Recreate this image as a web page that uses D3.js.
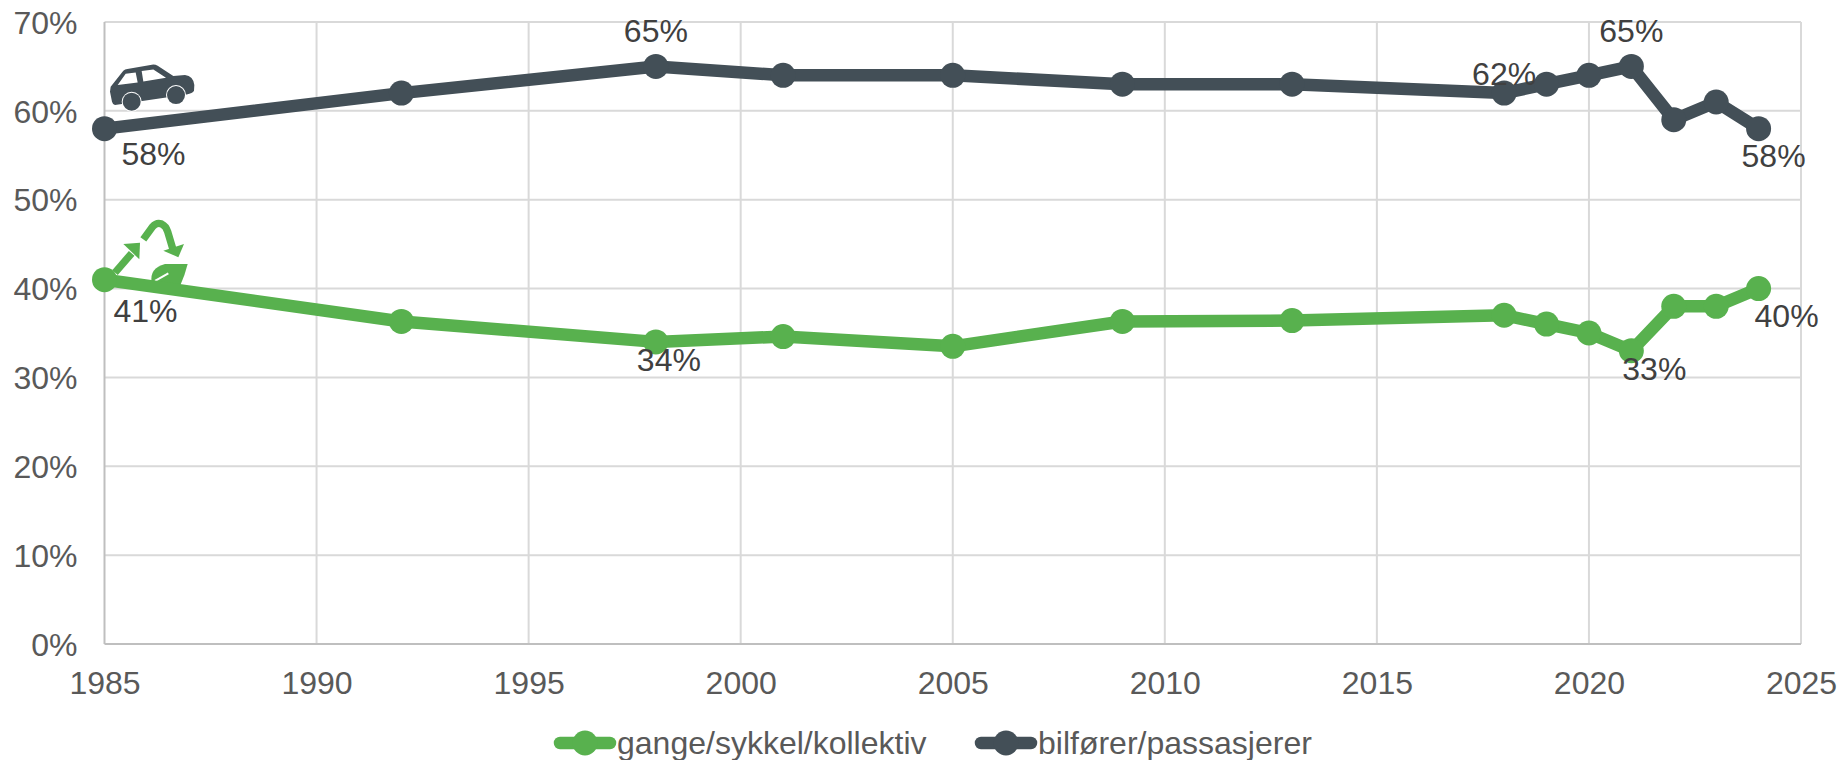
<!DOCTYPE html>
<html>
<head>
<meta charset="utf-8">
<script src="https://cdn.jsdelivr.net/npm/d3@7"></script>
<style>
  html, body { margin: 0; padding: 0; background: #fff; }
  svg { display: block; }
  text { font-family: "Liberation Sans", Arial, sans-serif; }
</style>
</head>
<body>
<svg id="chart" width="1841" height="760"></svg>
<script>
// Travel mode share by survey year
const years = [1985, 1992, 1998, 2001, 2005, 2009, 2013, 2018, 2019, 2020, 2021, 2022, 2023, 2024];
const activeShare = [41, 36.3, 34, 34.6, 33.5, 36.3, 36.4, 37, 36, 35, 33, 38, 38, 40];
const carShare = [58, 62, 65, 64, 64, 63, 63, 62, 63, 64, 65, 59, 61, 58];
const xTicks = [1985, 1990, 1995, 2000, 2005, 2010, 2015, 2020, 2025];
const yTicks = [0, 10, 20, 30, 40, 50, 60, 70];
const activeName = "gange/sykkel/kollektiv";
const carName = "bilfører/passasjerer";
// Labelled points: year, series value, text offset from the point
const activeLabels = [[1985, 41, "41%", 41, 42], [1998, 34, "34%", 13, 29], [2021, 33, "33%", 23, 29], [2024, 40, "40%", 28, 38]];
const carLabels = [[1985, 58, "58%", 49, 36], [1998, 65, "65%", 0, -24], [2018, 62, "62%", 0, -8], [2021, 65, "65%", 0, -24], [2024, 58, "58%", 15, 38]];

const green = "#58b14e", slate = "#434f57", grid = "#d9d9d9", axisText = "#595959", labelText = "#404040";
const axisFont = 32, labelFont = 32;

const svg = d3.select("#chart");
const x = d3.scaleLinear().domain([1985, 2025]).range([104.5, 1801]);
const y = d3.scaleLinear().domain([0, 70]).range([644, 22]);

// Gridlines
svg.append("g").selectAll("line").data(yTicks.slice(1)).join("line")
  .attr("x1", x(1985)).attr("x2", x(2025))
  .attr("y1", d => y(d)).attr("y2", d => y(d))
  .attr("stroke", grid).attr("stroke-width", 2);
svg.append("g").selectAll("line").data(xTicks).join("line")
  .attr("x1", d => x(d)).attr("x2", d => x(d))
  .attr("y1", y(0)).attr("y2", y(70))
  .attr("stroke", d => d === 1985 ? "#bfbfbf" : grid).attr("stroke-width", 2);
svg.append("line")
  .attr("x1", x(1985)).attr("x2", x(2025)).attr("y1", y(0)).attr("y2", y(0))
  .attr("stroke", "#bfbfbf").attr("stroke-width", 2);

// Axis labels
const yAxis = d3.axisLeft(y).tickValues(yTicks).tickFormat(d => d + "%").tickSize(0).tickPadding(27);
const xAxis = d3.axisBottom(x).tickValues(xTicks).tickFormat(d3.format("d")).tickSize(0).tickPadding(27);
for (const [axis, tx, ty] of [[yAxis, x(1985), 1], [xAxis, 0, y(0)]]) {
  const g = svg.append("g").attr("transform", `translate(${tx},${ty})`).call(axis);
  g.select(".domain").remove();
  g.selectAll("text").attr("fill", axisText).style("font-size", axisFont + "px")
    .style("font-family", '"Liberation Sans", Arial, sans-serif');
}

// Car pictogram, drawn in a 1/3 px grid above the 60% line
const car = svg.append("g").attr("transform", `translate(${x(1985) - 14.5},${y(60) - 70.8}) scale(${1 / 3})`);
car.append("path").attr("fill", slate).attr("fill-rule", "evenodd")
  .attr("d", "M62,140 L100,92 Q105,88 112,87 L190,73 Q197,73 203,77 L250,108 L285,105 Q310,108 313,135 L312,152 Q308,160 290,163 L75,195 Q68,193 66,185 L60,155 Z M83,135 L143,127 L137,97 L107,101 Z M160,124 L228,113 L190,88 L155,93 Z");
for (const [cx, cy] of [[125, 185], [258, 165]]) {
  car.append("circle").attr("cx", cx).attr("cy", cy).attr("r", 27).attr("fill", slate)
    .attr("stroke", "#fff").attr("stroke-width", 6).attr("paint-order", "stroke");
}

// Recycling pictogram with leaf, drawn in the same grid above the 40% line
const eco = svg.append("g").attr("transform", `translate(${x(1985) - 14.5},${y(40) - 88.6}) scale(${1 / 3})`);
eco.append("path").attr("fill", "none").attr("stroke", green).attr("stroke-width", 22)
  .attr("d", "M75,218 L125,160");
eco.append("path").attr("fill", green).attr("d", "M100,132 L150,128 L148,178 Z");
eco.append("path").attr("fill", "none").attr("stroke", green).attr("stroke-width", 22)
  .attr("d", "M160,118 L188,80 Q200,66 215,72 Q228,78 233,95 L250,152");
eco.append("path").attr("fill", green).attr("d", "M220,152 L282,132 L265,172 Z");
eco.append("path").attr("fill", green)
  .attr("d", "M185,246 Q178,205 225,192 L293,192 Q285,225 270,258 Z");
eco.append("path").attr("fill", "none").attr("stroke", "#fff").attr("stroke-width", 6)
  .attr("d", "M195,243 L235,220");

// Series lines and markers
const line = d3.line().x(d => x(d[0])).y(d => y(d[1]));
function drawSeries(values, color) {
  const pts = d3.zip(years, values);
  const g = svg.append("g");
  g.append("path").datum(pts).attr("d", line).attr("fill", "none")
    .attr("stroke", color).attr("stroke-width", 12.5).attr("stroke-linejoin", "round").attr("stroke-linecap", "round");
  g.selectAll("circle").data(pts).join("circle")
    .attr("cx", d => x(d[0])).attr("cy", d => y(d[1])).attr("r", 12.5).attr("fill", color);
}
drawSeries(activeShare, green);
drawSeries(carShare, slate);

// Value labels
function drawLabels(rows) {
  svg.append("g").selectAll("text").data(rows).join("text")
    .attr("x", d => x(d[0]) + d[3]).attr("y", d => y(d[1]) + d[4])
    .attr("text-anchor", "middle").attr("fill", labelText).style("font-size", labelFont + "px")
    .text(d => d[2]);
}
drawLabels(activeLabels);
drawLabels(carLabels);

// Legend
const legendY = 754;
const legendItems = [[activeName, green, 585, 617], [carName, slate, 1006, 1038]];
const legend = svg.append("g");
for (const [name, color, cx, tx] of legendItems) {
  legend.append("line").attr("x1", cx - 25).attr("x2", cx + 25).attr("y1", legendY - 11).attr("y2", legendY - 11)
    .attr("stroke", color).attr("stroke-width", 12.5).attr("stroke-linecap", "round");
  legend.append("circle").attr("cx", cx).attr("cy", legendY - 11).attr("r", 12.5).attr("fill", color);
  legend.append("text").attr("x", tx).attr("y", legendY).attr("fill", axisText)
    .style("font-size", axisFont + "px").text(name);
}
</script>
</body>
</html>
